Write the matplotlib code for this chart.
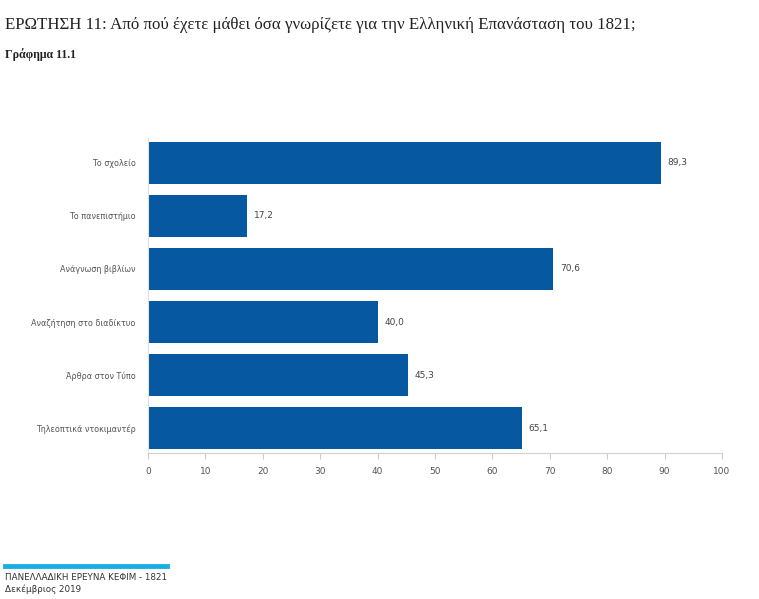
import matplotlib
matplotlib.use("Agg")
import matplotlib.pyplot as plt

categories = ["Το σχολείο", "Το πανεπιστήμιο", "Ανάγνωση βιβλίων",
              "Αναζήτηση στο διαδίκτυο", "Άρθρα στον Τύπο", "Τηλεοπτικά ντοκιμαντέρ"]
values = [89.3, 17.2, 70.6, 40.0, 45.3, 65.1]
xticks = [0, 10, 20, 30, 40, 50, 60, 70, 80, 90, 100]

plt.rcParams['font.family'] = ['DejaVu Sans']

fig = plt.figure(figsize=(7.59, 5.99), dpi=100)
ax = fig.add_axes([148/759, 1-453/599, (722-148)/759, (453-138)/599])

pos = list(range(len(categories)))
ax.barh(pos, values, height=0.78, color="#0659A1")
ax.set_ylim(5.47, -0.47)
ax.set_xlim(0, 100)
ax.set_xticks(xticks)
ax.set_xticklabels([str(t) for t in xticks], fontsize=6.5, color="#555555")
ax.set_yticks(pos)
ax.set_yticklabels(categories, fontsize=5.8, color="#555555")
ax.tick_params(axis='y', length=0, pad=9)
ax.tick_params(axis='x', length=4, color="#cccccc", pad=6)
for s in ["top", "right"]:
    ax.spines[s].set_visible(False)
ax.spines["bottom"].set_color("#d0d0d0")
ax.spines["left"].set_color("#e0e0e0")
ax.spines["left"].set_linewidth(0.8)

for p, v in zip(pos, values):
    ax.text(v + 1.2, p, f"{v:.1f}".replace(".", ","), va="center", ha="left",
            fontsize=6.5, color="#444444")

fig.text(5/759, 1-25/599, "ΕΡΩΤΗΣΗ 11: Από πού έχετε μάθει όσα γνωρίζετε για την Ελληνική Επανάσταση του 1821;",
         fontsize=12.2, family="Liberation Serif", color="#222222", va="center", ha="left")
fig.text(5/759, 1-55/599, "Γράφημα 11.1", fontsize=8.6, fontweight="bold",
         family="Liberation Serif", color="#222222", va="center", ha="left")

fig.add_artist(plt.Line2D([5/759, 167/759], [1-566/599, 1-566/599], color="#1AAFE3",
                          linewidth=3.5, transform=fig.transFigure))
fig.text(5/759, 1-577/599, "ΠΑΝΕΛΛΑΔΙΚΗ ΕΡΕΥΝΑ ΚΕΦΙΜ - 1821", fontsize=6.3,
         color="#333333", va="center", ha="left")
fig.text(5/759, 1-589/599, "Δεκέμβριος 2019", fontsize=6.3,
         color="#333333", va="center", ha="left")

fig.savefig("out.png", dpi=100)
